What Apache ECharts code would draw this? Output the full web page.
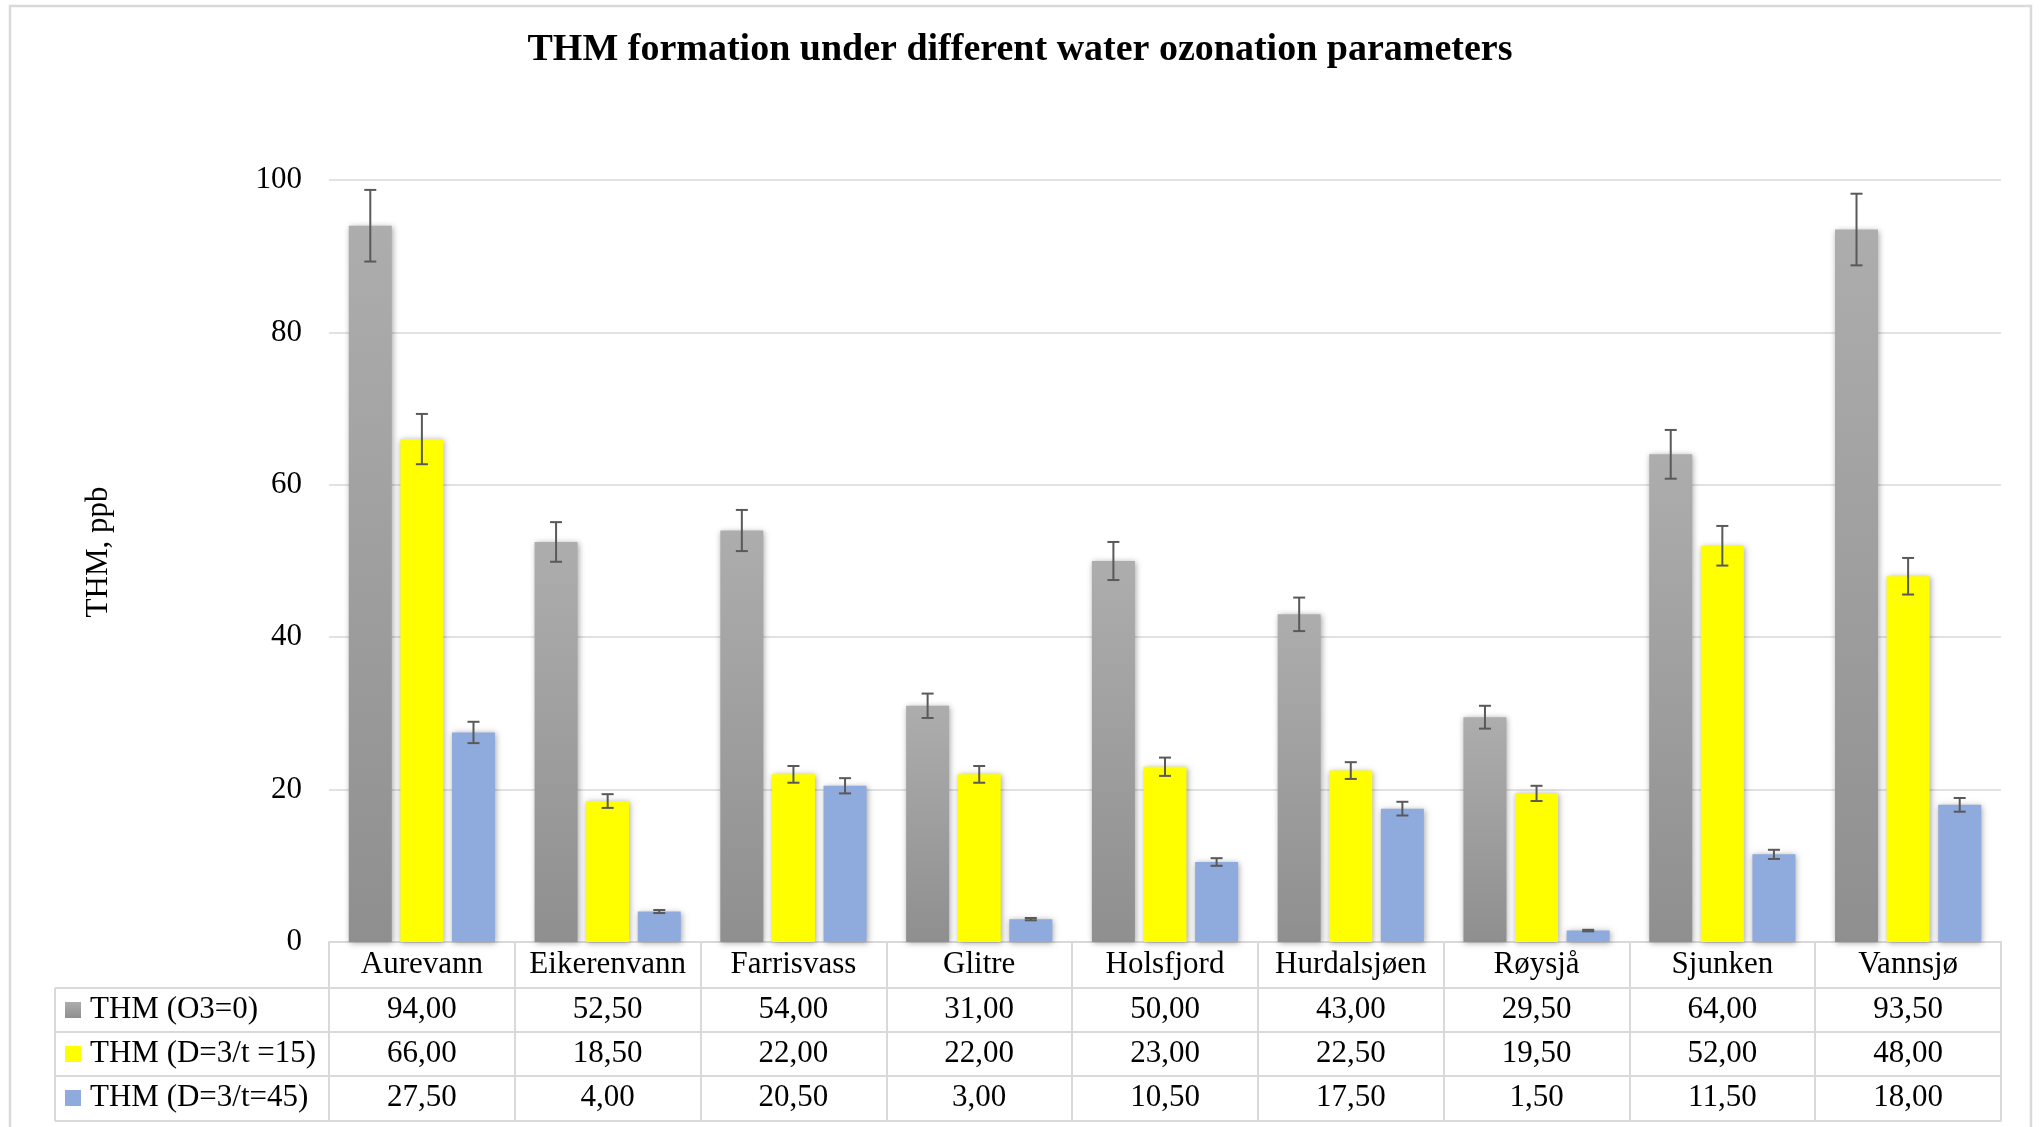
<!DOCTYPE html>
<html>
<head>
<meta charset="utf-8">
<script src="https://cdn.jsdelivr.net/npm/echarts@6/dist/echarts.min.js"></script>
<style>
    html, body { margin: 0; padding: 0; background: #fff; }
    #main { width: 2040px; height: 1127px; }
</style>
</head>
<body>
<div id="main"></div>
<script>
// data
var lakes = ['Aurevann', 'Eikerenvann', 'Farrisvass', 'Glitre', 'Holsfjord', 'Hurdalsjøen', 'Røysjå', 'Sjunken', 'Vannsjø'];
var seriesNames = ['THM (O3=0)', 'THM (D=3/t =15)', 'THM (D=3/t=45)'];
var thmO3 = [94, 52.5, 54, 31, 50, 43, 29.5, 64, 93.5];
var thm15 = [66, 18.5, 22, 22, 23, 22.5, 19.5, 52, 48];
var thm45 = [27.5, 4, 20.5, 3, 10.5, 17.5, 1.5, 11.5, 18];
// error bar half-heights
var errO3 = [4.7, 2.6, 2.7, 1.6, 2.5, 2.2, 1.5, 3.2, 4.7];
var err15 = [3.3, 0.9, 1.1, 1.1, 1.2, 1.1, 1.0, 2.6, 2.4];
var err45 = [1.4, 0.2, 1.0, 0.15, 0.5, 0.9, 0.1, 0.6, 0.9];
var yMin = 0, yMax = 100, yStep = 20;

var FONT = '"Liberation Serif", "Times New Roman", serif';
var LINE = '#d9d9d9';
var GRID_LEFT = 329, GRID_TOP = 180, AXIS_Y = 942;
var HEAD_H = 46, ROW_H = 44;
var BAR_W = 43, BAR_GAP = 0.2;

var colors = [
    { type: 'linear', x: 0, y: 0, x2: 0, y2: 1, colorStops: [{ offset: 0, color: '#adadad' }, { offset: 1, color: '#8f8f8f' }] },
    '#ffff00',
    '#8faadc'
];

function fmt(v) {
    return v.toFixed(2).replace('.', ',');
}

function tableAxis(offset, tickLen, rowVals) {
    return {
        type: 'category',
        data: lakes,
        position: 'bottom',
        offset: offset,
        axisLine: { lineStyle: { color: LINE, width: 2 } },
        axisTick: { show: tickLen > 0, interval: 0, length: tickLen, lineStyle: { color: LINE, width: 2 } },
        axisLabel: {
            show: tickLen > 0,
            interval: 0,
            margin: 0,
            lineHeight: tickLen,
            fontSize: 31,
            fontFamily: FONT,
            color: '#000',
            formatter: function (val, idx) {
                return rowVals ? fmt(rowVals[idx]) : val;
            }
        },
        splitLine: { show: false }
    };
}

function barSeries(i, vals) {
    return {
        name: seriesNames[i],
        type: 'bar',
        xAxisIndex: 0,
        barWidth: BAR_W,
        barGap: (BAR_GAP * 100) + '%',
        data: vals,
        itemStyle: {
            color: colors[i],
            shadowBlur: 6,
            shadowColor: 'rgba(0,0,0,0.35)',
            shadowOffsetX: 1,
            shadowOffsetY: 1
        }
    };
}

function errSeries(i, vals, errs) {
    return {
        name: 'err' + i,
        type: 'custom',
        xAxisIndex: 0,
        z: 10,
        silent: true,
        encode: { x: 0, y: 1 },
        data: vals.map(function (v, k) { return [k, v, errs[k]]; }),
        renderItem: function (params, api) {
            var k = api.value(0), v = api.value(1), e = api.value(2);
            var top = api.coord([k, v + e]);
            var bot = api.coord([k, v - e]);
            var cx = top[0] + (i - 1) * BAR_W * (1 + BAR_GAP);
            var cap = 6;
            var st = { stroke: '#595959', lineWidth: 2 };
            return {
                type: 'group',
                children: [
                    { type: 'line', shape: { x1: cx, y1: top[1], x2: cx, y2: bot[1] }, style: st },
                    { type: 'line', shape: { x1: cx - cap, y1: top[1], x2: cx + cap, y2: top[1] }, style: st },
                    { type: 'line', shape: { x1: cx - cap, y1: bot[1], x2: cx + cap, y2: bot[1] }, style: st }
                ]
            };
        }
    };
}

var chart = echarts.init(document.getElementById('main'));

var rowTops = [AXIS_Y + HEAD_H, AXIS_Y + HEAD_H + ROW_H, AXIS_Y + HEAD_H + 2 * ROW_H, AXIS_Y + HEAD_H + 3 * ROW_H + 1];
var tableLines = rowTops.map(function (y) {
    return { type: 'line', silent: true, shape: { x1: 55, y1: y, x2: GRID_LEFT, y2: y }, style: { stroke: LINE, lineWidth: 2 } };
});
tableLines.push({ type: 'line', silent: true, shape: { x1: 55, y1: rowTops[0], x2: 55, y2: rowTops[3] }, style: { stroke: LINE, lineWidth: 2 } });

var option = {
    animation: false,
    backgroundColor: '#fff',
    title: {
        text: 'THM formation under different water ozonation parameters',
        left: 'center',
        top: 31,
        padding: 0,
        textStyle: { fontFamily: FONT, fontSize: 38, fontWeight: 'bold', color: '#000' }
    },
    legend: {
        data: seriesNames,
        orient: 'vertical',
        left: 65,
        top: AXIS_Y + HEAD_H,
        padding: 0,
        itemGap: 0,
        itemWidth: 16,
        itemHeight: 16,
        icon: 'rect',
        selectedMode: false,
        itemStyle: { shadowBlur: 0, shadowColor: 'transparent' },
        textStyle: { fontFamily: FONT, fontSize: 31, color: '#000', lineHeight: ROW_H, padding: [0, 0, 0, 4] }
    },
    grid: {
        left: GRID_LEFT,
        right: 39,
        top: GRID_TOP,
        bottom: 1127 - AXIS_Y
    },
    xAxis: [
        tableAxis(0, HEAD_H, null),
        tableAxis(HEAD_H, ROW_H, thmO3),
        tableAxis(HEAD_H + ROW_H, ROW_H, thm15),
        tableAxis(HEAD_H + 2 * ROW_H, ROW_H, thm45),
        tableAxis(HEAD_H + 3 * ROW_H + 1, 0, null)
    ],
    yAxis: {
        type: 'value',
        min: yMin,
        max: yMax,
        interval: yStep,
        name: 'THM, ppb',
        nameLocation: 'middle',
        nameGap: 215,
        nameRotate: 90,
        nameTextStyle: { fontFamily: FONT, fontSize: 31, color: '#000', padding: [0, 0, 0, 18] },
        axisLine: { show: false },
        axisTick: { show: false },
        axisLabel: { fontFamily: FONT, fontSize: 31, color: '#000', margin: 27 },
        splitLine: { lineStyle: { color: LINE, width: 1.5 } }
    },
    graphic: [
        { type: 'rect', silent: true, shape: { x: 10, y: 6, width: 2021, height: 1140 }, style: { fill: 'none', stroke: LINE, lineWidth: 2.5 } }
    ].concat(tableLines),
    series: [
        barSeries(0, thmO3),
        barSeries(1, thm15),
        barSeries(2, thm45),
        errSeries(0, thmO3, errO3),
        errSeries(1, thm15, err15),
        errSeries(2, thm45, err45)
    ]
};

chart.setOption(option);
</script>
</body>
</html>
